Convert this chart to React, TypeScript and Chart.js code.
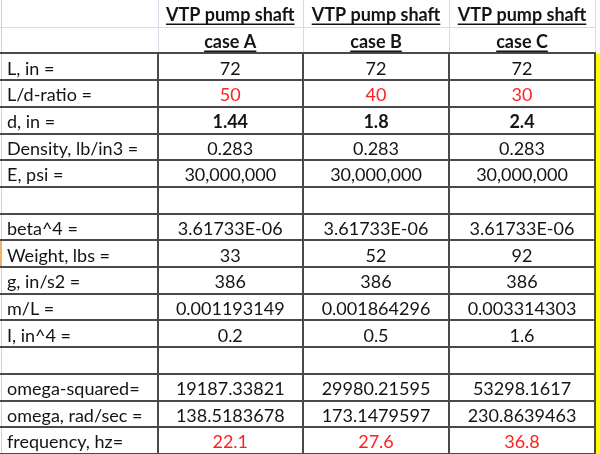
import React, { useEffect, useRef } from "react";
import { Chart, registerables } from "chart.js";

Chart.register(...registerables);

// ---- data ----
const headerTitle = "VTP pump shaft";
const cases = ["case A", "case B", "case C"];
const rowLabels = [
  "L, in =",
  "L/d-ratio =",
  "d, in =",
  "Density, lb/in3 =",
  "E, psi =",
  "",
  "beta^4 =",
  "Weight, lbs =",
  "g, in/s2 =",
  "m/L =",
  "I, in^4 =",
  "",
  "omega-squared=",
  "omega, rad/sec =",
  "frequency, hz=",
];
const caseA = ["72", "50", "1.44", "0.283", "30,000,000", "", "3.61733E-06", "33", "386", "0.001193149", "0.2", "", "19187.33821", "138.5183678", "22.1"];
const caseB = ["72", "40", "1.8", "0.283", "30,000,000", "", "3.61733E-06", "52", "386", "0.001864296", "0.5", "", "29980.21595", "173.1479597", "27.6"];
const caseC = ["72", "30", "2.4", "0.283", "30,000,000", "", "3.61733E-06", "92", "386", "0.003314303", "1.6", "", "53298.1617", "230.8639463", "36.8"];
const redRows = ["L/d-ratio =", "frequency, hz="];
const boldRows = ["d, in ="];

// ---- layout (x scale units = px, y scale units = rows) ----
const W = 600;
const H = 454;
const COL_EDGES = [0, 157.5, 303, 449, 595];
const HEADER_ROWS = 2;
const TOTAL_ROWS = HEADER_ROWS + rowLabels.length;
const FONT = "Lato";
const FONT_SIZE = 18;
const HEADER_FONT_SIZE = 18;
const TEXT = "#141414";
const RED = "#ff1f1f";
const DARK = "#4a4a4a";
const LIGHT = "#d5dce7";

const tablePlugin = {
  id: "table",
  beforeDraw(chart: any) {
    const { ctx } = chart;
    ctx.save();
    ctx.fillStyle = "#ffffff";
    ctx.fillRect(0, 0, chart.width, chart.height);
    ctx.restore();
  },
  afterDatasetsDraw(chart: any) {
    const { ctx, scales } = chart;
    const xs = scales.x;
    const ys = scales.y;
    const px = (v: number) => xs.getPixelForValue(v);
    const py = (v: number) => ys.getPixelForValue(v);
    ctx.save();

    // yellow strip at right
    ctx.fillStyle = "#ffff00";
    ctx.fillRect(px(596), py(HEADER_ROWS), px(W) - px(596), py(TOTAL_ROWS) - py(HEADER_ROWS));

    // light gridlines in header
    ctx.strokeStyle = LIGHT;
    ctx.lineWidth = 1;
    ctx.beginPath();
    ctx.moveTo(px(0), Math.round(py(1)) + 0.5);
    ctx.lineTo(px(595), Math.round(py(1)) + 0.5);
    for (let i = 1; i < COL_EDGES.length; i++) {
      const x = Math.round(px(COL_EDGES[i])) + 0.5;
      ctx.moveTo(x, py(0));
      ctx.lineTo(x, py(HEADER_ROWS));
    }
    ctx.stroke();

    // left row-header edge
    ctx.strokeStyle = "#c5d1df";
    ctx.beginPath();
    ctx.moveTo(1.5, py(0));
    ctx.lineTo(1.5, py(TOTAL_ROWS));
    ctx.stroke();
    // selected row marker (Weight row)
    const wIdx = rowLabels.indexOf("Weight, lbs =") + HEADER_ROWS;
    ctx.fillStyle = "#f3b26a";
    ctx.fillRect(0, py(wIdx), 2, py(wIdx + 1) - py(wIdx));

    // dark borders
    ctx.strokeStyle = DARK;
    ctx.lineWidth = 2;
    ctx.beginPath();
    for (let r = HEADER_ROWS; r <= TOTAL_ROWS; r++) {
      const y = Math.round(py(r));
      ctx.moveTo(px(0), y);
      ctx.lineTo(px(596), y);
    }
    for (let i = 1; i < COL_EDGES.length; i++) {
      const x = Math.round(px(COL_EDGES[i]));
      ctx.moveTo(x, py(HEADER_ROWS) - 1);
      ctx.lineTo(x, py(TOTAL_ROWS));
    }
    ctx.stroke();

    // text from dataset points
    ctx.textBaseline = "middle";
    const meta = chart.getDatasetMeta(0);
    const data = chart.data.datasets[0].data as any[];
    data.forEach((d: any, i: number) => {
      const el = meta.data[i];
      if (!d.text) return;
      const weight = d.bold ? "bold " : "";
      const size = d.header ? HEADER_FONT_SIZE : FONT_SIZE;
      ctx.font = `${weight}${size}px ${FONT}`;
      ctx.fillStyle = d.red ? RED : TEXT;
      const y = el.y + 2;
      let x = el.x;
      if (d.align === "left") {
        x = px(COL_EDGES[0]) + 7;
        ctx.textAlign = "left";
      } else {
        ctx.textAlign = "center";
      }
      ctx.fillText(d.text, x, y);
      if (d.underline) {
        const w = ctx.measureText(d.text).width;
        const x0 = d.align === "left" ? x : x - w / 2;
        ctx.strokeStyle = TEXT;
        ctx.lineWidth = 1.5;
        ctx.beginPath();
        ctx.moveTo(x0, Math.round(y + 9) + 0.25);
        ctx.lineTo(x0 + w, Math.round(y + 9) + 0.25);
        ctx.stroke();
      }
    });
    ctx.restore();
  },
};

function buildCells() {
  const cells: any[] = [];
  const cols = [caseA, caseB, caseC];
  const centre = (c: number) => (COL_EDGES[c] + COL_EDGES[c + 1]) / 2;
  cases.forEach((name, c) => {
    cells.push({ x: centre(c + 1), y: 0.5, text: headerTitle, bold: true, underline: true, header: true });
    cells.push({ x: centre(c + 1), y: 1.5, text: name, bold: true, underline: true, header: true });
  });
  rowLabels.forEach((label, r) => {
    const y = HEADER_ROWS + r + 0.5;
    cells.push({ x: centre(0), y, text: label, align: "left" });
    cols.forEach((col, c) => {
      cells.push({
        x: centre(c + 1),
        y,
        text: col[r],
        red: redRows.includes(label),
        bold: boldRows.includes(label),
      });
    });
  });
  return cells;
}

export default function App() {
  const ref = useRef<HTMLCanvasElement | null>(null);
  useEffect(() => {
    document.body.style.margin = "0";
    if (!ref.current) return;
    const chart = new Chart(ref.current, {
      type: "scatter",
      data: {
        datasets: [
          {
            data: buildCells(),
            pointRadius: 0,
            pointHoverRadius: 0,
          },
        ],
      },
      options: {
        animation: false,
        responsive: false,
        devicePixelRatio: 1,
        events: [],
        layout: { padding: 0 },
        plugins: { legend: { display: false }, tooltip: { enabled: false } },
        scales: {
          x: { type: "linear", min: 0, max: W, display: false },
          y: { type: "linear", min: 0, max: TOTAL_ROWS, reverse: true, display: false },
        },
      },
      plugins: [tablePlugin],
    });
    return () => chart.destroy();
  }, []);
  return (
    <div style={{ width: W, height: H }}>
      <canvas ref={ref} width={W} height={H} />
    </div>
  );
}
